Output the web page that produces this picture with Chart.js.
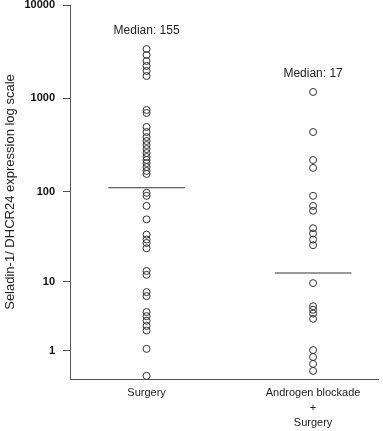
<!DOCTYPE html>
<html>
<head>
<meta charset="utf-8">
<script src="https://cdn.jsdelivr.net/npm/chart.js@4/dist/chart.umd.min.js"></script>
<style>
  html, body { margin: 0; padding: 0; background: #fff; }
  #wrap { width: 383px; height: 431px; }
</style>
</head>
<body>
<div id="wrap"><canvas id="chart"></canvas></div>
<script>
// Groups on the x axis (multi-line labels)
const groups = [["Surgery"], ["Androgen blockade", "+", "Surgery"]];

// Expression values
const surgeryValues = [
    3380, 2920, 2520, 2230, 1970, 1740,
    753, 699,
    495, 437, 386, 350, 317, 287, 260, 236, 219, 203, 184, 167, 155,
    97, 90, 70, 50,
    34, 30, 27.5, 24,
    13.3, 12, 7.5, 6.7,
    4.2, 3.7, 3.2, 2.7, 2.3,
    1.1, 0.08
];
const androgenValues = [
    1173, 437, 219, 180,
    90, 70, 62,
    40, 35, 30, 26,
    9.6, 5.0, 4.5, 4.0, 3.4,
    1.04, 0.72, 0.45, 0.22
];

const medianValues = [110, 12.6];
const medianLabels = ["Median: 155", "Median: 17"];

const yTickValues = [1, 10, 100, 1000, 10000];
const yTickLabels = ["1", "10", "100", "1000", "10000"];

const FONT = "'Liberation Sans', Arial, Helvetica, sans-serif";

// The axis is log10(value + 1)
const toAxis = v => Math.log10(v + 1);

const pointStyle = {
    pointRadius: 3.5,
    pointBorderWidth: 1,
    pointBorderColor: "#333",
    pointBackgroundColor: "rgba(255,255,255,0)"
};

const datasets = [surgeryValues, androgenValues].map((values, i) => ({
    type: "scatter",
    data: values.map(v => ({x: i, y: toAxis(v)})),
    ...pointStyle
}));

// Median bars
medianValues.forEach((m, i) => {
    datasets.push({
        type: "line",
        data: [{x: i - 0.23, y: toAxis(m)}, {x: i + 0.23, y: toAxis(m)}],
        borderColor: "#333",
        borderWidth: 1,
        pointRadius: 0
    });
});

// Draws the "Median: ..." text above each group
const medianTextPlugin = {
    id: "medianText",
    afterDatasetsDraw(chart)
    {
        const {ctx, scales} = chart;
        ctx.save();
        ctx.font = "12px " + FONT;
        ctx.fillStyle = "#222";
        ctx.textAlign = "center";
        ctx.textBaseline = "middle";
        [surgeryValues, androgenValues].forEach((values, i) => {
            const top = scales.y.getPixelForValue(toAxis(Math.max(...values)));
            ctx.fillText(medianLabels[i], scales.x.getPixelForValue(i), top - 18);
        });
        ctx.restore();
    }
};

new Chart(document.getElementById("chart"), {
    data: {datasets: datasets},
    options: {
        responsive: true,
        maintainAspectRatio: false,
        animation: false,
        layout: {padding: {top: 5, right: 3, left: 0, bottom: 0}},
        plugins: {
            legend: {display: false},
            tooltip: {enabled: false}
        },
        scales: {
            x: {
                type: "linear",
                min: -0.46,
                max: 1.39,
                afterBuildTicks: axis => {
                    axis.ticks = groups.map((g, i) => ({value: i}));
                },
                afterFit: scale => { scale.height = 52; },
                grid: {display: false, drawTicks: false},
                border: {display: true, color: "#555", width: 1},
                ticks: {
                    autoSkip: false,
                    maxRotation: 0,
                    padding: 7,
                    color: "#222",
                    font: {family: FONT, size: 11, lineHeight: 1.35},
                    callback: (value, index) => groups[index]
                }
            },
            y: {
                type: "linear",
                min: 0,
                max: toAxis(10000),
                afterBuildTicks: axis => {
                    axis.ticks = yTickValues.map(v => ({value: toAxis(v)}));
                },
                afterFit: scale => {
                    scale.width = 70;
                    // let the top label overhang like in the original
                    scale.paddingTop = 0;
                    scale.paddingBottom = 0;
                },
                grid: {
                    display: true,
                    drawOnChartArea: false,
                    drawTicks: true,
                    tickLength: 7,
                    color: "#555"
                },
                border: {display: true, color: "#555", width: 1},
                ticks: {
                    autoSkip: false,
                    padding: 8,
                    color: "#111",
                    font: {family: FONT, size: 11, weight: "bold"},
                    callback: (value, index) => yTickLabels[index]
                },
                title: {
                    display: true,
                    text: "Seladin-1/ DHCR24 expression log scale",
                    color: "#222",
                    font: {family: FONT, size: 13},
                    padding: {top: 3, bottom: 0}
                }
            }
        }
    },
    plugins: [medianTextPlugin]
});
</script>
</body>
</html>
